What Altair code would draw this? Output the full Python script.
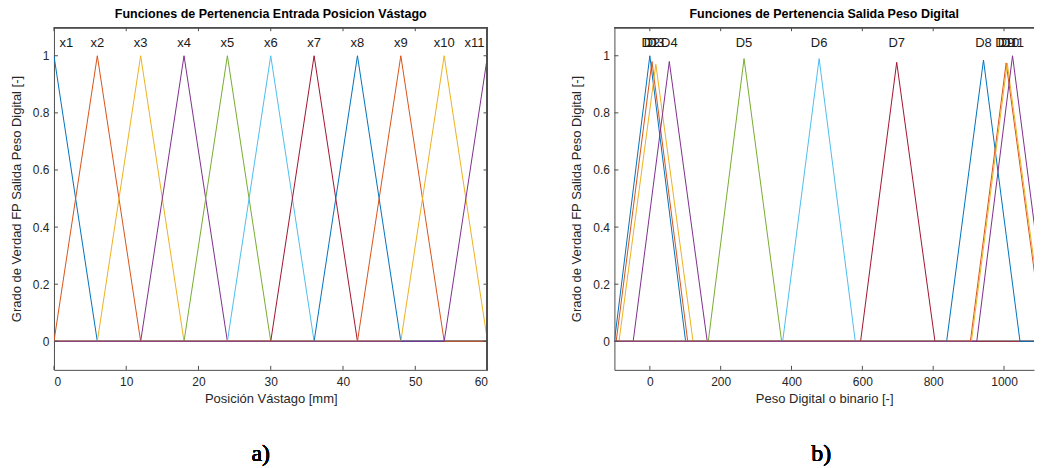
import altair as alt
import pandas as pd

# ---------------- data ----------------
in_names = ["x1", "x2", "x3", "x4", "x5", "x6", "x7", "x8", "x9", "x10", "x11"]
in_left = [-6, 0, 6, 12, 18, 24, 30, 36, 42, 48, 54]
in_peak = [0, 6, 12, 18, 24, 30, 36, 42, 48, 54, 60]
in_right = [6, 12, 18, 24, 30, 36, 42, 48, 54, 60, 66]
in_height = [1, 1, 1, 1, 1, 1, 1, 1, 1, 1, 1]
in_label_x = [1.7, 6, 12, 18, 24, 30, 36, 42, 48, 54, 58.2]

out_names = ["D1", "D2", "D3", "D4", "D5", "D6", "D7", "D8", "D9", "D10", "D11"]
out_left = [-100, -95, -87, -47, 165, 375, 595, 838, 905, 908, 923]
out_peak = [0, 6, 17, 55, 266, 478, 697, 942, 1006, 1009, 1024]
out_right = [101, 107, 122, 162, 372, 580, 805, 1045, 1112, 1115, 1128]
out_height = [1.0, 0.98, 0.97, 0.98, 0.99, 0.99, 0.977, 0.985, 0.975, 0.974, 1.0]
out_label_x = [0, 6, 17, 55, 266, 478, 697, 942, 1006, 1009, 1024]

label_y = 1.045
y_ticks = [0, 0.2, 0.4, 0.6, 0.8, 1]
in_x_ticks = [0, 10, 20, 30, 40, 50, 60]
out_x_ticks = [0, 200, 400, 600, 800, 1000]

titles = ["Funciones de Pertenencia Entrada Posicion Vástago",
          "Funciones de Pertenencia Salida Peso Digital"]
x_titles = ["Posición Vástago [mm]", "Peso Digital o binario [-]"]
y_title = "Grado de Verdad FP Salida Peso Digital [-]"
tags = ["a)", "b)"]

colors = ["#0072BD", "#D95319", "#EDB120", "#7E2F8E", "#77AC30", "#4DBEEE",
          "#A2142F", "#0072BD", "#D95319", "#EDB120", "#7E2F8E"]

AXC = "#4d4d4d"
TXT = "#262626"
FONT = "Liberation Sans"
H = 343


def panel(names, lf, pk, rf, hh, lab_x, dom, xticks, title, xtitle, tag, width, right_edge):
    rows = []
    for i, n in enumerate(names):
        xs = [min(dom[0], lf[i]), lf[i], pk[i], rf[i], max(dom[1], rf[i])]
        ys = [0, 0, hh[i], 0, 0]
        for k, (a, b) in enumerate(zip(xs, ys)):
            rows.append({"mf": n, "idx": i, "k": k, "x": a, "y": b})
    df = pd.DataFrame(rows)

    xsc = alt.Scale(domain=dom, nice=False, zero=False)
    ysc = alt.Scale(domain=[-0.1, 1.1], nice=False, zero=False)
    xax = alt.Axis(values=xticks, title=xtitle, format="d", ticks=False, grid=False,
                   domain=True, labelPadding=7, titlePadding=5)
    yax = alt.Axis(values=y_ticks, title=y_title, format="~g", ticks=False, grid=False,
                   domain=True, labelPadding=5, titlePadding=9)
    X = alt.X("x:Q", scale=xsc, axis=xax)
    Y = alt.Y("y:Q", scale=ysc, axis=yax)

    lines = alt.Chart(df).mark_line(strokeWidth=1, clip=True).encode(
        x=X, y=Y,
        color=alt.Color("mf:N", scale=alt.Scale(domain=names, range=colors), legend=None),
        order="k:Q",
    )

    lab_df = pd.DataFrame({"x": lab_x, "y": [label_y] * len(names), "t": names})
    labels = alt.Chart(lab_df).mark_text(font=FONT, fontSize=13, color="#1a1a1a",
                                         baseline="middle").encode(x=X, y=Y, text="t:N")

    xt = pd.DataFrame({"x": xticks})
    yt = pd.DataFrame({"y": y_ticks})
    top_ticks = alt.Chart(xt).mark_rule(color=AXC, strokeWidth=1).encode(
        x=X, y=alt.value(0), y2=alt.value(4))
    bot_ticks = alt.Chart(xt).mark_rule(color=AXC, strokeWidth=1).encode(
        x=X, y=alt.value(H - 4), y2=alt.value(H))
    left_ticks = alt.Chart(yt).mark_rule(color=AXC, strokeWidth=1).encode(
        y=Y, x=alt.value(0), x2=alt.value(4))
    top_edge = alt.Chart(xt).mark_rule(color=AXC, strokeWidth=1).encode(
        x=alt.value(0), x2=alt.value(width), y=alt.value(0.5))

    tag_mark = alt.Chart(xt).mark_text(font="Liberation Serif", fontSize=24, color="black",
                                       fontWeight=400, baseline="middle").encode(
        x=alt.value(207), y=alt.value(H + 84), text=alt.value(tag))

    layers = [lines, labels, top_ticks, bot_ticks, left_ticks, top_edge, tag_mark]
    if right_edge:
        right_ticks = alt.Chart(yt).mark_rule(color=AXC, strokeWidth=1).encode(
            y=Y, x=alt.value(width - 4), x2=alt.value(width))
        r_edge = alt.Chart(yt).mark_rule(color=AXC, strokeWidth=1).encode(
            x=alt.value(width - 0.5), y=alt.value(0), y2=alt.value(H))
        layers += [right_ticks, r_edge]
    return alt.layer(*layers).properties(width=width, height=H, title=title)


left = panel(in_names, in_left, in_peak, in_right, in_height, in_label_x, [0, 60],
             in_x_ticks, titles[0], x_titles[0], tags[0], 434, True)
right = panel(out_names, out_left, out_peak, out_right, out_height, out_label_x, [-100, 1084.6],
              out_x_ticks, titles[1], x_titles[1], tags[1], 420, False)

chart = alt.hconcat(left, right, spacing=82).properties(
    padding={"left": 2, "top": 0, "right": 0, "bottom": 0}
).configure_view(stroke=None).configure_axis(
    labelFont=FONT, titleFont=FONT, labelFontSize=12, titleFontSize=13,
    labelColor=TXT, titleColor=TXT, domainColor=AXC, domainWidth=1,
    titleFontWeight="normal",
).configure_title(font=FONT, fontSize=12.5, fontWeight="bold", color="#000000",
                  offset=6, anchor="middle")

chart.save("out.html", embed_options={"renderer": "svg", "actions": False})
